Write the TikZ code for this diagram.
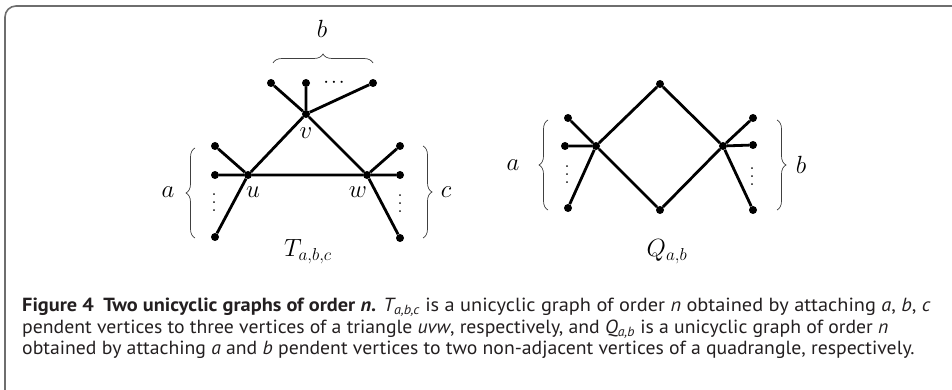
\documentclass[tikz,border=0pt]{standalone}
\usepackage{fontspec}
\setsansfont{PT Sans}[FakeStretch=1.07]
\newfontfamily\capnarrow{PT Sans}[FakeStretch=1.038]
\usetikzlibrary{decorations.pathreplacing}
\definecolor{framegray}{HTML}{6E6E6E}
\definecolor{captext}{HTML}{231F20}
\newcommand\myvdots{\vbox{\baselineskip 8pt\lineskiplimit 0pt\hbox{.}\hbox{.}\hbox{.}}}
\newcommand\myhdots{\hbox{$\cdot$\kern2pt$\cdot$\kern2pt$\cdot$}}
\tikzset{
  vtx/.style={circle,fill=black,inner sep=0pt,minimum size=8pt},
  gedge/.style={line width=2.8pt},
  lbl/.style={font=\fontsize{24}{28}\selectfont,inner sep=0pt},
  dts/.style={font=\fontsize{22}{22}\selectfont,inner sep=0pt},
  brc/.style={decorate,decoration={brace,amplitude=9pt},line width=0.7pt,draw=black!75},
  captxt/.style={anchor=base west,inner sep=0pt,text=captext,font=\sffamily\fontsize{19}{21}\selectfont},
  captxtn/.style={anchor=base west,inner sep=0pt,text=captext,font=\capnarrow\fontsize{19}{21}\selectfont}
}
\begin{document}
\begin{tikzpicture}[x=1pt,y=-1pt]
\useasboundingbox (0,0) rectangle (952,390);
% frame
\draw[framegray,line width=1.6pt,rounded corners=11pt] (5,395) -- (5,6) -- (960,6);
% ---------- T_{a,b,c}
\node[vtx] (v) at (306,114) {};
\node[vtx] (u) at (248,175) {};
\node[vtx] (w) at (367,175) {};
\node[vtx] (b1) at (271,83) {};
\node[vtx] (b2) at (306,83) {};
\node[vtx] (b3) at (373,83) {};
\node[vtx] (a1) at (215,146) {};
\node[vtx] (a2) at (215,175) {};
\node[vtx] (a3) at (215,237) {};
\node[vtx] (c1) at (400,146) {};
\node[vtx] (c2) at (400,175) {};
\node[vtx] (c3) at (400,238) {};
\draw[gedge] (u) -- (v) -- (w) -- (u);
\draw[gedge] (v) -- (b1) (v) -- (b2) (v) -- (b3);
\draw[gedge] (u) -- (a1) (u) -- (a2) (u) -- (a3);
\draw[gedge] (w) -- (c1) (w) -- (c2) (w) -- (c3);
\node[dts] (hdots) at (334,83) {\myhdots};
\node[dts] (avd) at (214,203) {\myvdots};
\node[dts] (cvd) at (400,204) {\myvdots};
\node[lbl] (vl) at (306,133) {$v$};
\node[lbl] (ul) at (253,192) {$u$};
\node[lbl] (wl) at (358,192) {$w$};
\coordinate (bb1) at (273,63);
\coordinate (bb2) at (373,63);
\draw[brc] (bb1) -- (bb2);
\node[lbl] (bl) at (322,29) {$b$};
\coordinate (ab1) at (195,238);
\coordinate (ab2) at (195,148);
\draw[brc] (ab1) -- (ab2);
\node[lbl] (al) at (168,192) {$a$};
\coordinate (cb1) at (423,146);
\coordinate (cb2) at (423,238);
\draw[brc] (cb1) -- (cb2);
\node[lbl] (cl) at (446,192) {$c$};
\node[lbl] (Tl) at (308,252) {$T_{a,b,c}$};
% ---------- Q_{a,b}
\node[vtx] (qt) at (660,84) {};
\node[vtx] (ql) at (596,146) {};
\node[vtx] (qb) at (660,210) {};
\node[vtx] (qr) at (723,146) {};
\node[vtx] (p1) at (568,118) {};
\node[vtx] (p2) at (565,146) {};
\node[vtx] (p3) at (568,208) {};
\node[vtx] (r1) at (753,118) {};
\node[vtx] (r2) at (753,145) {};
\node[vtx] (r3) at (753,210) {};
\draw[gedge] (qt) -- (ql) -- (qb) -- (qr) -- (qt);
\draw[gedge] (ql) -- (p1) (ql) -- (p2) (ql) -- (p3);
\draw[gedge] (qr) -- (r1) (qr) -- (r2) (qr) -- (r3);
\node[dts] (pvd) at (567,175) {\myvdots};
\node[dts] (rvd) at (752,177) {\myvdots};
\coordinate (qa1) at (548,210);
\coordinate (qa2) at (548,120);
\draw[brc] (qa1) -- (qa2);
\node[lbl] (qal) at (513,165) {$a$};
\coordinate (qc1) at (777,120);
\coordinate (qc2) at (777,210);
\draw[brc] (qc1) -- (qc2);
\node[lbl] (qbl) at (801,165) {$b$};
\node[lbl] (Ql) at (667,252) {$Q_{a,b}$};
% ---------- caption
\node[captxt] (cap1) at (22,311) {\textbf{Figure 4\enspace Two unicyclic graphs of order \textit{n}.} \textit{T\textsubscript{a,b,c}} is a unicyclic graph of order \textit{n} obtained by attaching \textit{a}, \textit{b}, \textit{c}};
\node[captxtn] (cap2) at (22,333) {pendent vertices to three vertices of a triangle \textit{uvw}, respectively, and \textit{Q\textsubscript{a,b}} is a unicyclic graph of order \textit{n}};
\node[captxtn] (cap3) at (22,354) {obtained by attaching \textit{a} and \textit{b} pendent vertices to two non-adjacent vertices of a quadrangle, respectively.};
\end{tikzpicture}
\end{document}
